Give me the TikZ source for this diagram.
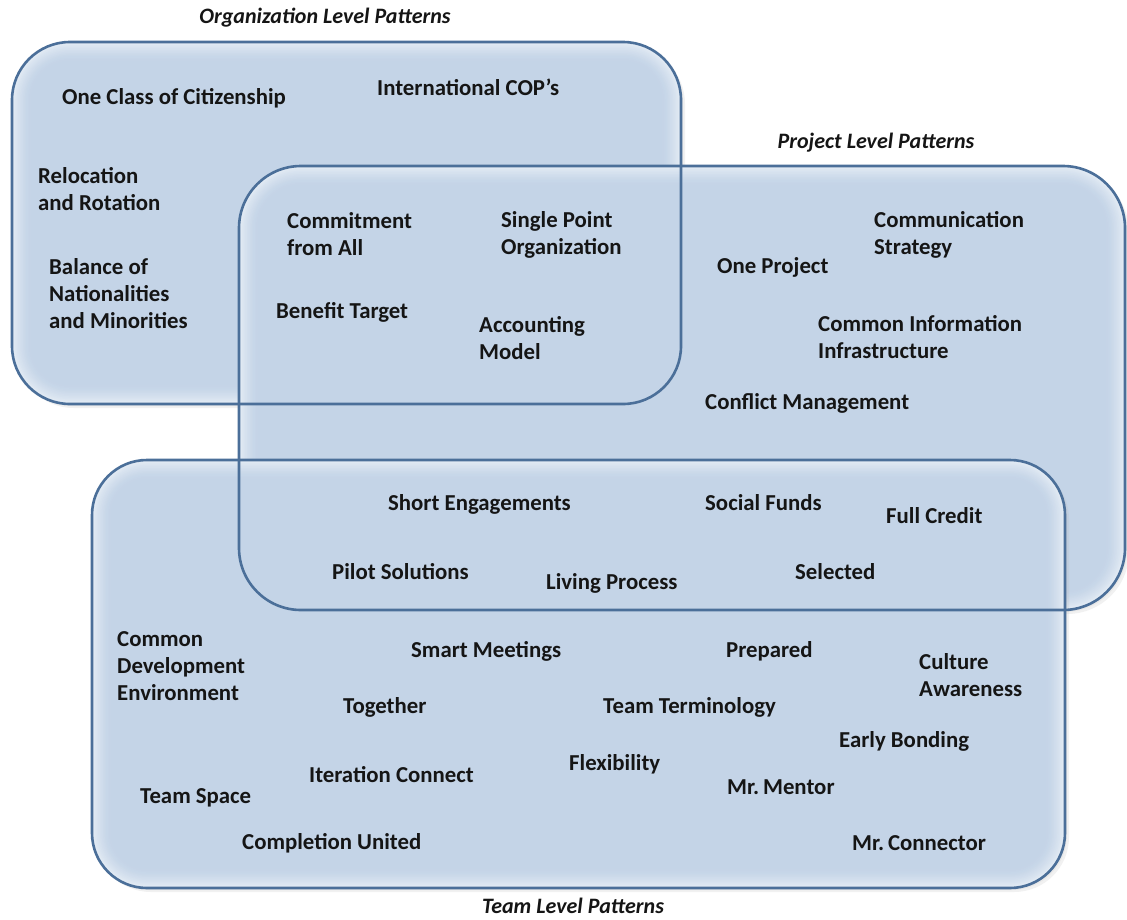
\documentclass[tikz,border=0pt]{standalone}
\usepackage{fontspec}
\setmainfont{Carlito}

\definecolor{panelfill}{HTML}{C4D4E7}
\definecolor{panelglow}{HTML}{E4ECF5}
\definecolor{paneledge}{HTML}{4B6F99}
\definecolor{labelink}{HTML}{151515}

% soft panel: flat fill with a light inner edge glow
% #1,#2 = top-left corner, #3,#4 = bottom-right corner, #5 = corner radius
\newcommand\softpanel[5]{%
  \fill[gray!60, opacity=0.18, rounded corners=#5pt] (#1+4,#2+4) rectangle (#3+4,#4+4);
  \fill[gray!60, opacity=0.14, rounded corners=#5pt] (#1+2,#2+2) rectangle (#3+2,#4+2);
  \foreach \k in {0,...,12} {
    \pgfmathsetmacro\ins{1.6*\k}
    \pgfmathsetmacro\mixpct{100*(1-\k/12)^1.6}
    \pgfmathsetmacro\rad{max(#5-\ins,2)}
    \fill[panelglow!\mixpct!panelfill, rounded corners=\rad pt]
      (#1+\ins,#2+\ins) rectangle (#3-\ins,#4-\ins);
  }
}

\tikzset{
  x=1pt, y=-1pt,
  lbl/.style={anchor=west, inner sep=0pt, align=left, text=labelink,
    font=\fontsize{22.8}{27}\selectfont\bfseries},
  ttl/.style={inner sep=0pt, text=labelink,
    font=\fontsize{22}{25}\selectfont\bfseries\itshape},
  rim/.style={draw=paneledge, line width=2.6pt}
}

\begin{document}
\begin{tikzpicture}
\useasboundingbox[fill=white] (0,0) rectangle (1127,919);

% panels
\softpanel{12}{42}{681}{404}{58}
\softpanel{239}{166}{1125}{610}{62}
\softpanel{92}{460}{1065}{888}{55}

% outlines drawn on top so every border stays visible
\draw[rim, rounded corners=58pt] (12,42) rectangle (681,404);
\draw[rim, rounded corners=62pt] (239,166) rectangle (1125,610);
\draw[rim, rounded corners=55pt] (92,460) rectangle (1065,888);

% titles
\node[ttl] (orgtitle) at (325,18) {Organization Level Patterns};
\node[ttl] (projtitle) at (876,143) {Project Level Patterns};
\node[ttl] (teamtitle) at (573,906) {Team Level Patterns};

% organization level
\node[lbl] (oneclass) at (62,98) {One Class of Citizenship};
\node[lbl] (intlcop) at (377,87) {International COP’s};
\node[lbl] (reloc) at (38,189.5) {Relocation\\and Rotation};
\node[lbl] (balance) at (49,294) {Balance of\\Nationalities\\and Minorities};

% organization and project
\node[lbl] (commit) at (287,234.5) {Commitment\\from All};
\node[lbl] (single) at (501,234.5) {Single Point\\Organization};
\node[lbl] (benefit) at (276,312) {Benefit Target};
\node[lbl] (account) at (479,338.5) {Accounting\\Model};

% project level
\node[lbl] (commstrat) at (874,234.5) {Communication\\Strategy};
\node[lbl] (oneproj) at (717,267) {One Project};
\node[lbl] (cominfo) at (818,337.5) {Common Information\\Infrastructure};
\node[lbl] (conflict) at (705,403) {Conflict Management};

% project and team
\node[lbl] (shorteng) at (388,504) {Short Engagements};
\node[lbl] (social) at (705,503) {Social Funds};
\node[lbl] (fullcredit) at (886,516) {Full Credit};
\node[lbl] (pilot) at (332,572) {Pilot Solutions};
\node[lbl] (living) at (546,583) {Living Process};
\node[lbl] (selected) at (795,572) {Selected};

% team level
\node[lbl] (comdev) at (117,666) {Common\\Development\\Environment};
\node[lbl] (smart) at (411,651) {Smart Meetings};
\node[lbl] (prepared) at (726,651) {Prepared};
\node[lbl] (culture) at (919,675.5) {Culture\\Awareness};
\node[lbl] (together) at (343,707) {Together};
\node[lbl] (teamterm) at (603,707) {Team Terminology};
\node[lbl] (early) at (839,741) {Early Bonding};
\node[lbl] (flex) at (569,764) {Flexibility};
\node[lbl] (iter) at (309,775) {Iteration Connect};
\node[lbl] (mentor) at (727,787) {Mr.\,Mentor};
\node[lbl] (teamspace) at (140,798) {Team Space};
\node[lbl] (completion) at (242,843) {Completion United};
\node[lbl] (connector) at (852,843) {Mr.\,Connector};
\end{tikzpicture}
\end{document}
